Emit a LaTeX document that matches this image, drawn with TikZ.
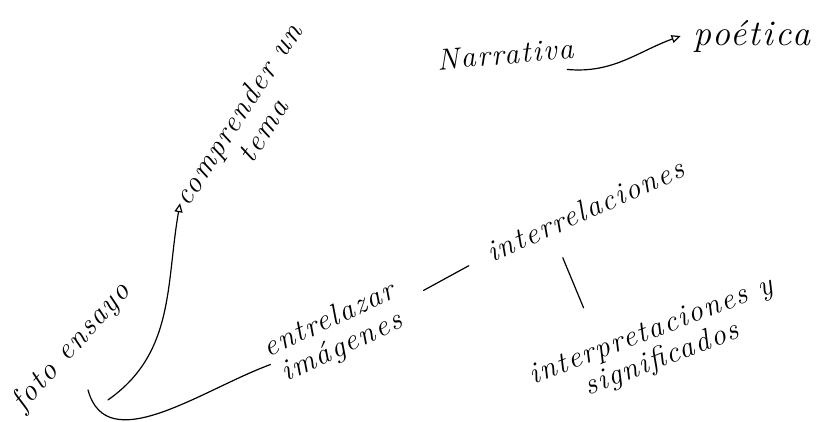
\documentclass[tikz,border=0pt]{standalone}
\usepackage{fontspec}
\setmainfont{Latin Modern Roman}[LetterSpace=6]
\usepackage{tikz}
\usetikzlibrary{arrows.meta,positioning}

\begin{document}
\begin{tikzpicture}[x=1pt, y=1pt, font=\fontsize{30}{30}\selectfont\itshape,
      note/.style={inner sep=1pt, align=center},
      link/.style={line width=1.2pt, line cap=round},
      tip/.style={-{Triangle[open, length=9pt, width=8pt]}}]
    \useasboundingbox (0,0) rectangle (832,422);
    \node[note, rotate=48] (foto) at (72,75) {foto ensayo};
    \node[note, rotate=57] (tema) at (250,300) {comprender un\\tema};
    \node[note, rotate=25] (imagenes) at (336,88) {entrelazar\\imágenes};
    \node[note, rotate=24] (interrel) at (585,212) {interrelaciones};
    \node[note, rotate=21] (interp) at (657,76) {interpretaciones y\\significados};
    \node[note, rotate=5] (narr) at (505,368) {Narrativa};
    \node[note, font=\fontsize{36}{36}\selectfont\itshape] (poet) at (752,386) {poética};
    % conectores
    \draw[link, tip] ([shift={(25,-43)}]foto.south) to[out=35, in=-100] ([shift={(-12,8)}]tema.west);
    \draw[link] ([shift={(5,-33)}]foto.south) to[out=-75, in=200] (imagenes.west);
    \draw[link] ([shift={(22,13)}]imagenes.east) -- ([shift={(-18,-12)}]interrel.west);
    \draw[link] ([shift={(-27,-37)}]interrel.south) -- ([shift={(-63,11)}]interp.north);
    \draw[link, tip] ([shift={(-8,-10)}]narr.south east) to[out=-5, in=200] ([xshift=-12]poet.west);
\end{tikzpicture}
\end{document}
